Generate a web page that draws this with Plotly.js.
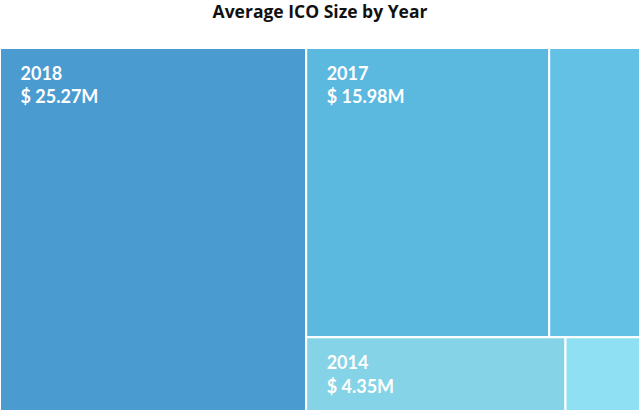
<!DOCTYPE html>
<html>
<head>
<meta charset="utf-8">
<script src="https://cdn.plot.ly/plotly-3.0.1.min.js"></script>
<style>html,body{margin:0;padding:0;background:#fff;}#chart{width:640px;height:411px;}</style>
</head>
<body>
<div id="chart"></div>
<script>
const years = ["2018", "2017", "2016", "2014", "2015"];
const avgSizeM = [25.27, 15.98, 5.97, 4.35, 1.25];
const showLabel = [true, true, false, true, false];
const tileColors = ["#4a9bd0", "#5bb9e0", "#62c1e5", "#84d3e6", "#8fe0f2"];

const ind = "\u00a0\u00a0\u00a0\u00a0";
const lift = "<span style='font-size:29px'>\u00a0</span>";
const texttemplates = showLabel.map(s => s ? (ind + "%{label}" + lift + "<br>" + ind + "$ %{value:.2f}M") : " ");

const trace = {
  type: "treemap",
  labels: years,
  parents: years.map(() => ""),
  values: avgSizeM,
  sort: true,
  texttemplate: texttemplates,
  textposition: "top left",
  textfont: {family: "Lato, 'Open Sans', sans-serif", size: 18, color: "#ffffff", weight: "bold"},
  hovertemplate: "%{label}<br>$ %{value:.2f}M<extra></extra>",
  marker: {colors: tileColors, line: {color: "#ffffff", width: 2}, pad: {t: 0, l: 0, r: 0, b: 0}},
  tiling: {packing: "squarify", squarifyratio: 1.618, pad: 0},
  pathbar: {visible: false}
};

const layout = {
  width: 640,
  height: 411,
  margin: {l: 0, r: 0, t: 48, b: 0},
  paper_bgcolor: "#ffffff",
  title: {
    text: "Average ICO Size by Year",
    font: {family: "'Open Sans', sans-serif", size: 17.5, color: "#111111", weight: "bold"},
    x: 0.5, xanchor: "center",
    yref: "container", y: 0.972, yanchor: "middle"
  },
  showlegend: false
};

Plotly.newPlot("chart", [trace], layout, {displayModeBar: false, staticPlot: true});
</script>
</body>
</html>
